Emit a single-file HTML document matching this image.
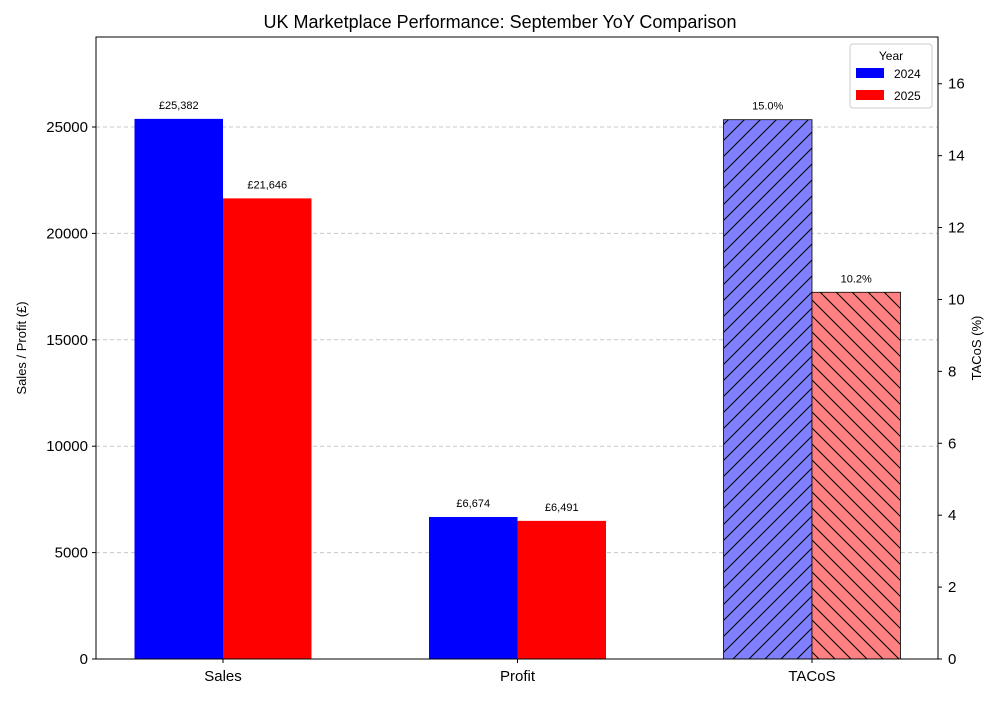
<!DOCTYPE html>
<html><head><meta charset="utf-8"><style>
body{margin:0;background:#fff;font-family:"Liberation Sans",sans-serif}
svg text{font-family:"Liberation Sans",sans-serif}
</style></head><body>
<svg id="c" width="1000" height="700" xmlns="http://www.w3.org/2000/svg">
<defs>
<pattern id="h1" patternUnits="userSpaceOnUse" width="16" height="16"><rect width="16" height="16" fill="#8080ff"/><path d="M-4,4 L4,-4 M0,16 L16,0 M12,20 L20,12" stroke="#000" stroke-width="1"/></pattern>
<pattern id="h2" patternUnits="userSpaceOnUse" width="16" height="16"><rect width="16" height="16" fill="#ff8080"/><path d="M-4,12 L4,20 M0,0 L16,16 M12,-4 L20,4" stroke="#000" stroke-width="1"/></pattern>
</defs>
</svg>
<script>
const categories=['Sales','Profit','TACoS'];
const series2024=[25382,6674,15.0];
const series2025=[21646,6491,10.2];
const labels2024=['£25,382','£6,674','15.0%'];
const labels2025=['£21,646','£6,491','10.2%'];
const leftTicks=[0,5000,10000,15000,20000,25000];
const rightTicks=[0,2,4,6,8,10,12,14,16];
const svg=document.getElementById('c');const NS='http://www.w3.org/2000/svg';
const L=96,R=938,T=37,B=659;
const yL=v=>B-(v/29230)*(B-T);
const yR=v=>B-(v/17.3)*(B-T);
const xC=i=>223+i*294.5;const bw=88.5;
function mk(tag,a,txt){const e=document.createElementNS(NS,tag);for(const k in a)e.setAttribute(k,a[k]);if(txt!=null)e.textContent=txt;svg.appendChild(e);return e;}
leftTicks.forEach(v=>{if(v>0){const g=mk('line',{x1:L,x2:R,y1:yL(v),y2:yL(v),stroke:'#c8c8c8','stroke-dasharray':'4,3'});}});
categories.forEach((c,i)=>{
  const right=i===2;const f=right?yR:yL;
  [[series2024,labels2024,right?'url(#h1)':'#0000ff',-bw,'2024'],[series2025,labels2025,right?'url(#h2)':'#ff0000',0,'2025']].forEach(s=>{
    const v=s[0][i];const y=f(v);
    const r=mk('rect',{x:xC(i)+s[3],y:y,width:bw,height:B-y,fill:s[2]});
    if(right){r.setAttribute('stroke','#000');r.setAttribute('stroke-width','0.8');}
    
    
    const t=mk('text',{x:xC(i)+s[3]+bw/2,y:y-10,'font-size':11,'text-anchor':'middle'},s[1][i]);
    
    
  });
  const t=mk('text',{x:xC(i),y:681,'font-size':15,'text-anchor':'middle'},c);
  
  
  mk('line',{x1:xC(i),x2:xC(i),y1:B,y2:B+4,stroke:'#000'});
});
const fr=mk('rect',{x:L,y:T,width:R-L,height:B-T,fill:'none',stroke:'#000','stroke-width':1});

leftTicks.forEach(v=>{mk('line',{x1:L-4,x2:L,y1:yL(v),y2:yL(v),stroke:'#000'});
  const t=mk('text',{x:L-8,y:yL(v)+5,'font-size':15,'text-anchor':'end'},String(v));
  });
rightTicks.forEach(v=>{mk('line',{x1:R,x2:R+4,y1:yR(v),y2:yR(v),stroke:'#000'});
  const t=mk('text',{x:R+10,y:yR(v)+5,'font-size':15},String(v));
  });
let t=mk('text',{x:500,y:28,'font-size':18,'text-anchor':'middle'},'UK Marketplace Performance: September YoY Comparison');

t=mk('text',{x:26,y:348,'font-size':13,'text-anchor':'middle',transform:'rotate(-90 26 348)'},'Sales / Profit (£)');

t=mk('text',{x:981,y:348,'font-size':13,'text-anchor':'middle',transform:'rotate(-90 981 348)'},'TACoS (%)');

const lg=mk('rect',{x:850,y:44,width:82,height:64,fill:'#fff',stroke:'#ccc',rx:3});

t=mk('text',{x:891,y:60,'font-size':12,'text-anchor':'middle'},'Year');

[['2024','#0000ff',68],['2025','#ff0000',90]].forEach(e=>{
  const s=mk('rect',{x:856,y:e[2],width:28,height:10,fill:e[1]});
  
  const tt=mk('text',{x:894,y:e[2]+10,'font-size':12},e[0]);
  
});
</script>
</body></html>
